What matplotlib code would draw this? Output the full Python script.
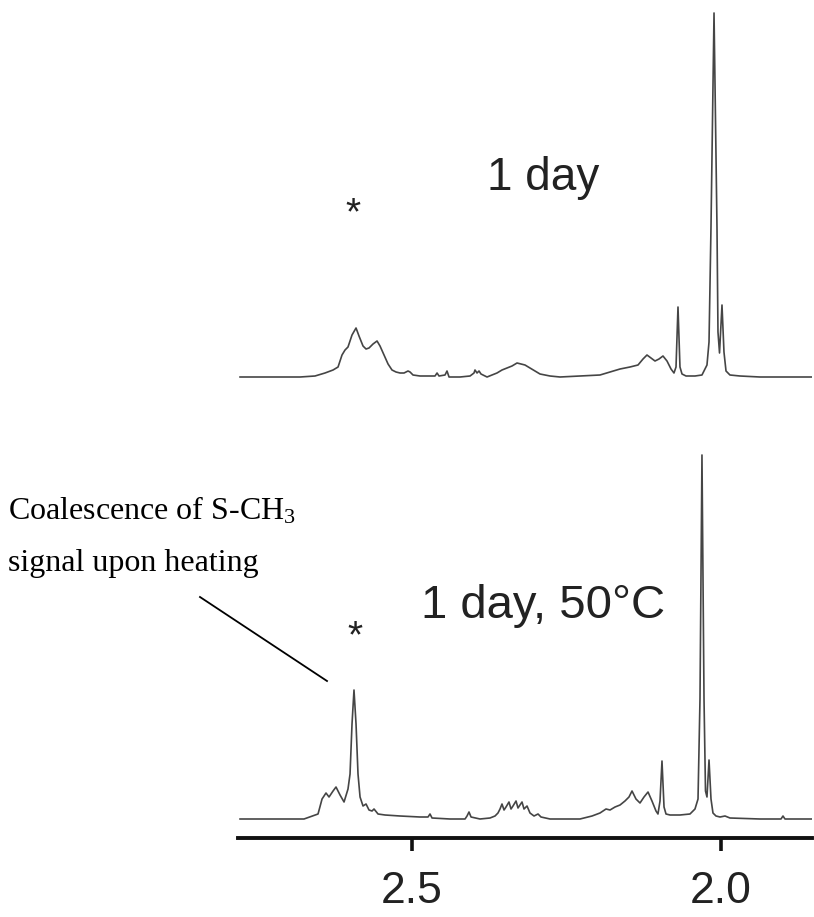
import matplotlib
matplotlib.use("Agg")
import matplotlib.pyplot as plt
from matplotlib.lines import Line2D

plt.rcParams['mathtext.fontset'] = 'custom'
plt.rcParams['mathtext.rm'] = 'Liberation Serif'
plt.rcParams['mathtext.it'] = 'Liberation Serif:italic'

# ---------------- data (chemical shift in ppm, intensity in arbitrary units) ----
top_ppm = [2.7783, 2.6812, 2.6570, 2.6408, 2.6278, 2.6197, 2.6133, 2.6084, 2.6036,
           2.5971, 2.5906, 2.5858, 2.5793, 2.5744, 2.5696, 2.5631, 2.5566, 2.5518,
           2.5453, 2.5388, 2.5324, 2.5259, 2.5194, 2.5129, 2.5065, 2.5032, 2.4984,
           2.4871, 2.4628, 2.4595, 2.4563, 2.4466, 2.4434, 2.4401, 2.4223, 2.4061,
           2.3997, 2.3981, 2.3948, 2.3916, 2.3884, 2.3786, 2.3706, 2.3625, 2.3544,
           2.3463, 2.3382, 2.3301, 2.3236, 2.3172, 2.3091, 2.3010, 2.2929, 2.2767,
           2.2605, 2.2282, 2.1958, 2.1796, 2.1634, 2.1473, 2.1343, 2.1262, 2.1198,
           2.1133, 2.1068, 2.1003, 2.0939, 2.0874, 2.0809, 2.0761, 2.0728, 2.0712,
           2.0696, 2.0680, 2.0664, 2.0631, 2.0566, 2.0421, 2.0308, 2.0227, 2.0194,
           2.0162, 2.0113, 2.0065, 2.0049, 2.0024, 1.9984, 1.9952, 1.9919, 1.9855,
           1.9693, 1.9369, 1.8528]
top_int = [0, 0, 1, 4, 7, 10, 22, 27, 30,
           42, 49, 41, 31, 28, 29, 33, 36, 31,
           22, 13, 7, 5, 4, 4, 6, 5, 2,
           1, 1, 4, 1, 2, 6, 0, 0, 1,
           4, 7, 4, 6, 3, 0, 2, 4, 7,
           9, 11, 14, 13, 12, 9, 6, 3, 1,
           0, 1, 2, 5, 8, 10, 12, 18, 22,
           19, 16, 18, 21, 16, 8, 4, 10, 40,
           70, 40, 10, 3, 1, 1, 2, 12, 35,
           150, 364, 150, 45, 24, 72, 25, 6, 2,
           1, 0, 0]

bot_ppm = [2.7783, 2.6748, 2.6521, 2.6456, 2.6392, 2.6343, 2.6278, 2.6230, 2.6165,
           2.6100, 2.6036, 2.6003, 2.5971, 2.5939, 2.5906, 2.5874, 2.5841, 2.5793,
           2.5744, 2.5696, 2.5647, 2.5615, 2.5550, 2.5437, 2.5194, 2.4871, 2.4741,
           2.4709, 2.4676, 2.4385, 2.4142, 2.4110, 2.4078, 2.4045, 2.3900, 2.3738,
           2.3657, 2.3609, 2.3576, 2.3544, 2.3511, 2.3479, 2.3431, 2.3398, 2.3366,
           2.3317, 2.3285, 2.3253, 2.3220, 2.3188, 2.3139, 2.3091, 2.3026, 2.2961,
           2.2913, 2.2767, 2.2282, 2.2087, 2.1958, 2.1861, 2.1796, 2.1715, 2.1634,
           2.1554, 2.1489, 2.1440, 2.1376, 2.1311, 2.1246, 2.1181, 2.1117, 2.1052,
           2.1020, 2.0987, 2.0955, 2.0922, 2.0890, 2.0825, 2.0664, 2.0502, 2.0421,
           2.0372, 2.0340, 2.0308, 2.0275, 2.0251, 2.0227, 2.0194, 2.0162, 2.0130,
           2.0081, 2.0016, 1.9935, 1.9855, 1.9369, 1.9029, 1.8997, 1.8965, 1.8528]
bot_int = [0, 0, 5, 20, 26, 22, 28, 32, 24,
           17, 30, 45, 95, 129, 95, 45, 22, 13,
           15, 9, 8, 10, 5, 4, 3, 2, 2,
           5, 1, 0, 0, 3, 7, 2, 0, 1,
           3, 6, 10, 15, 9, 12, 17, 10, 13,
           18, 11, 14, 17, 10, 13, 6, 3, 5,
           2, 0, 0, 3, 6, 10, 9, 12, 14,
           18, 22, 28, 20, 16, 22, 27, 18, 8,
           5, 18, 58, 12, 5, 4, 4, 5, 10,
           20, 120, 364, 120, 28, 22, 59, 20, 6,
           3, 2, 3, 1, 0, 0, 3, 0, 0]

tick_values = [2.5, 2.0]
tick_labels = ['2.5', '2.0']
labels = ['1 day', '1 day, 50°C']
top_offset = 461
bot_offset = 19

# ---------------- figure ----------------
W, H = 814, 917
fig = plt.figure(figsize=(W / 100, H / 100), dpi=100)
ax = fig.add_axes([238 / W, (H - 838) / H, (812 - 238) / W, 838 / H])
ax.set_xlim(2.7816, 1.85275)
ax.set_ylim(0, 838)

col = '#454545'
ax.plot(top_ppm, [v + top_offset for v in top_int], color=col, lw=1.2, solid_joinstyle='round')
ax.plot(bot_ppm, [v + bot_offset for v in bot_int], color=col, lw=1.2, solid_joinstyle='round')

for s in ['top', 'left', 'right']:
    ax.spines[s].set_visible(False)
ax.spines['bottom'].set_linewidth(2.8)
ax.spines['bottom'].set_color('#111111')
ax.set_yticks([])
ax.set_xticks(tick_values)
ax.set_xticklabels(tick_labels, fontfamily='Liberation Sans', fontsize=32, color='#222222')
ax.tick_params(axis='x', direction='out', length=9.5, width=2.6, color='#111111', pad=14)
ax.patch.set_alpha(0)

def fx(px):
    return px / W

def fy(py):
    return 1 - py / H

fig.text(fx(487), fy(190), labels[0], fontfamily='Liberation Sans', fontsize=33,
         color='#222222', ha='left', va='baseline')
fig.text(fx(421), fy(618), labels[1], fontfamily='Liberation Sans', fontsize=34,
         color='#222222', ha='left', va='baseline')

# asterisks
fig.text(fx(353), fy(224), '*', fontfamily='Liberation Sans', fontsize=28,
         color='#222222', ha='center', va='baseline')
fig.text(fx(355), fy(647), '*', fontfamily='Liberation Sans', fontsize=28,
         color='#222222', ha='center', va='baseline')

# annotation
fig.text(fx(8), fy(519), r'Coalescence of S-CH$_3$', fontfamily='Liberation Serif',
         fontsize=23, color='black', ha='left', va='baseline')
fig.text(fx(8), fy(571), 'signal upon heating', fontfamily='Liberation Serif',
         fontsize=23, color='black', ha='left', va='baseline')
fig.add_artist(Line2D([fx(200), fx(327)], [fy(597), fy(681)], color='black', lw=1.3,
                      transform=fig.transFigure))

fig.savefig('out.png', dpi=100, facecolor='white')
